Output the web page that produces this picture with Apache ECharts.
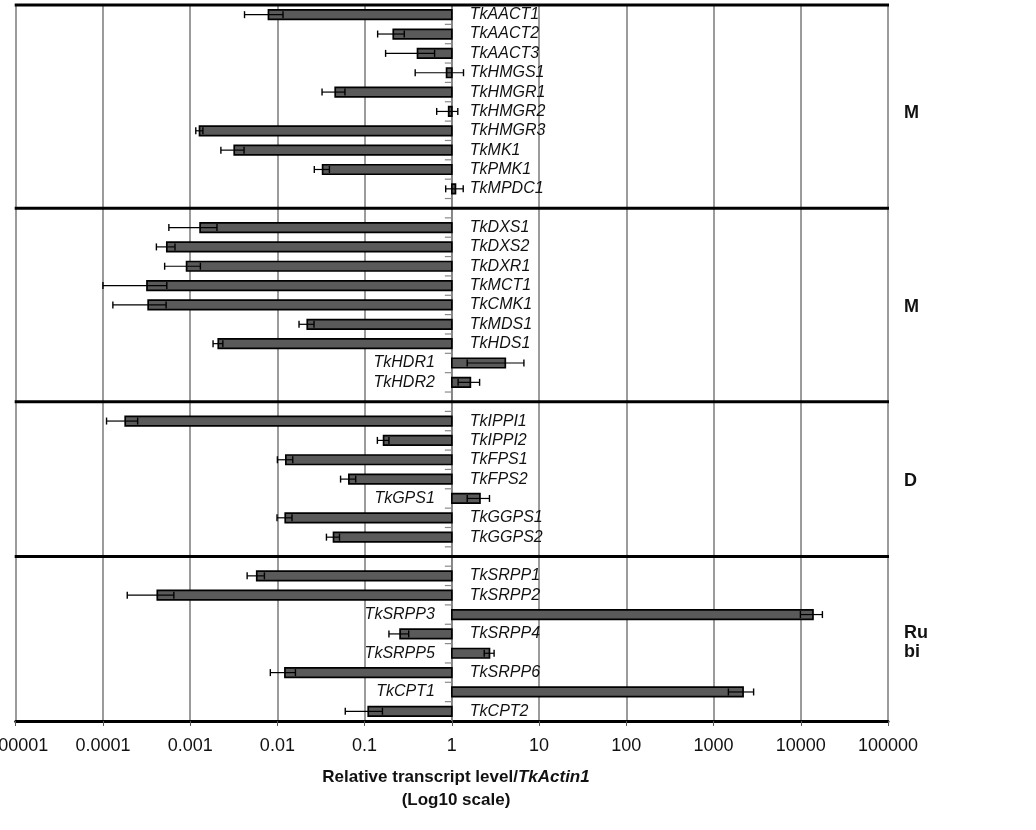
<!DOCTYPE html>
<html>
<head>
<meta charset="utf-8">
<script src="https://cdn.jsdelivr.net/npm/echarts@6/dist/echarts.min.js"></script>
<style>
html,body{margin:0;padding:0;background:#fff;}
#chart{width:1036px;height:830px;}
</style>
</head>
<body>
<div id="chart"></div>
<script>
// Genes (top to bottom); '' marks the gap row holding a group separator
const genes = [
  'TkAACT1','TkAACT2','TkAACT3','TkHMGS1','TkHMGR1','TkHMGR2','TkHMGR3','TkMK1','TkPMK1','TkMPDC1',
  '',
  'TkDXS1','TkDXS2','TkDXR1','TkMCT1','TkCMK1','TkMDS1','TkHDS1','TkHDR1','TkHDR2',
  '',
  'TkIPPI1','TkIPPI2','TkFPS1','TkFPS2','TkGPS1','TkGGPS1','TkGGPS2',
  '',
  'TkSRPP1','TkSRPP2','TkSRPP3','TkSRPP4','TkSRPP5','TkSRPP6','TkCPT1','TkCPT2'
];
// Relative transcript level / TkActin1
const levels = [
  0.0079, 0.213, 0.404, 0.87, 0.046, 0.92, 0.00128, 0.0032, 0.033, 1.1,
  null,
  0.0013, 0.00054, 0.00091, 0.00032, 0.00033, 0.022, 0.0021, 4.1, 1.63,
  null,
  0.00018, 0.165, 0.0125, 0.066, 2.1, 0.0123, 0.044,
  null,
  0.0058, 0.00042, 13800, 0.255, 2.7, 0.0122, 2180, 0.11
];
// Standard deviations
const sds = [
  0.0037, 0.072, 0.23, 0.49, 0.0135, 0.25, 0.00012, 0.00095, 0.0065, 0.25,
  null,
  0.00073, 0.00013, 0.0004, 0.00022, 0.0002, 0.0043, 0.00027, 2.6, 0.45,
  null,
  0.00007, 0.025, 0.0025, 0.013, 0.6, 0.0024, 0.0075,
  null,
  0.0013, 0.00023, 3900, 0.065, 0.35, 0.0039, 700, 0.05
];
const xTickLabels = ['0.00001','0.0001','0.001','0.01','0.1','1','10','100','1000','10000','100000'];
const groupLabels = ['M', 'M', 'D', 'Ru\nbi'];

const barData = [];
const sepData = [];
genes.forEach((g, i) => {
  if (g === '') sepData.push([i]);
  else barData.push([i, levels[i], sds[i], g]);
});

const chart = echarts.init(document.getElementById('chart'));
const LABEL_FONT = 'italic 16px "Liberation Sans", Arial, sans-serif';
const TXT_FONT = '"Liberation Sans", Arial, sans-serif';

chart.setOption({
  animation: false,
  grid: { left: 15.7, right: 148, top: 5, bottom: 109, containLabel: false, outerBoundsMode: 'none' },
  xAxis: {
    type: 'log', logBase: 10, min: 0.00001, max: 100000, interval: 1,
    axisLine: { show: true, lineStyle: { color: '#000', width: 3 } },
    axisTick: { show: true, length: 5, lineStyle: { color: '#555', width: 1 } },
    axisLabel: {
      margin: 16, color: '#111', fontSize: 18, fontFamily: TXT_FONT,
      hideOverlap: false, showMinLabel: true, showMaxLabel: true,
      formatter: v => xTickLabels[Math.round(Math.log10(v)) + 5]
    },
    splitLine: { show: true, lineStyle: { color: '#7a7a7a', width: 1.5 } }
  },
  yAxis: {
    type: 'category', inverse: true, data: genes,
    axisLine: { show: false }, axisTick: { show: false },
    axisLabel: { show: false }, splitLine: { show: false }
  },
  series: [
    { // vertical axis at 1 with category ticks
      type: 'custom', data: [[0]], silent: true, z: 3,
      renderItem: (params, api) => {
        const n = genes.length;
        const top = api.coord([1, 0]);
        const band = api.size([0, 1])[1];
        const x = top[0];
        const y0 = top[1] - band / 2;
        const children = [{
          type: 'line',
          shape: { x1: x, y1: y0, x2: x, y2: y0 + band * n },
          style: { stroke: '#808080', lineWidth: 1.5 }
        }];
        for (let k = 1; k < n; k++) {
          const y = y0 + band * k;
          children.push({
            type: 'line', shape: { x1: x - 7, y1: y, x2: x + 1, y2: y },
            style: { stroke: '#8a8a8a', lineWidth: 1.2 }
          });
        }
        return { type: 'group', children };
      }
    },
    { // group separators + top border
      type: 'custom', data: sepData.concat([[-0.5]]), silent: true, z: 5,
      renderItem: (params, api) => {
        const idx = api.value(0);
        let y;
        if (idx < 0) {
          y = api.coord([1, 0])[1] - api.size([0, 1])[1] / 2;
        } else {
          y = api.coord([1, idx])[1];
        }
        const a = api.coord([0.00001, 0]);
        const b = api.coord([100000, 0]);
        return {
          type: 'line', shape: { x1: a[0] - 1, y1: y, x2: b[0] + 1, y2: y },
          style: { stroke: '#000', lineWidth: 3 }
        };
      }
    },
    { // bars, error bars, gene labels
      type: 'custom', data: barData, z: 4,
      encode: { x: 1, y: 0 },
      renderItem: (params, api) => {
        const idx = api.value(0);
        const v = api.value(1);
        const sd = api.value(2);
        const name = barData[params.dataIndex][3];
        const p0 = api.coord([1, idx]);
        const p1 = api.coord([v, idx]);
        const lo = api.coord([v - sd, idx]);
        const hi = api.coord([v + sd, idx]);
        const h = 9.5;
        const cy = p0[1];
        const capH = 7;
        const labelLeft = v >= 1.5;
        const children = [
          {
            type: 'rect',
            shape: { x: Math.min(p0[0], p1[0]), y: cy - h / 2, width: Math.abs(p1[0] - p0[0]), height: h },
            style: { fill: '#5a5a5a', stroke: '#000', lineWidth: 1.7 }
          },
          { type: 'line', shape: { x1: lo[0], y1: cy, x2: hi[0], y2: cy }, style: { stroke: '#000', lineWidth: 1.2 } },
          { type: 'line', shape: { x1: lo[0], y1: cy - capH / 2, x2: lo[0], y2: cy + capH / 2 }, style: { stroke: '#000', lineWidth: 1.4 } },
          { type: 'line', shape: { x1: hi[0], y1: cy - capH / 2, x2: hi[0], y2: cy + capH / 2 }, style: { stroke: '#000', lineWidth: 1.4 } },
          {
            type: 'text',
            style: {
              text: name, x: labelLeft ? p0[0] - 17 : p0[0] + 18, y: cy,
              align: labelLeft ? 'right' : 'left', verticalAlign: 'middle',
              font: LABEL_FONT, fill: '#111'
            }
          }
        ];
        return { type: 'group', children };
      }
    }
  ],
  graphic: [
    {
      type: 'text', x: 456, y: 777,
      style: {
        text: '{a|Relative transcript level/}{b|TkActin1}',
        align: 'center', verticalAlign: 'middle',
        rich: {
          a: { fontSize: 17, fontWeight: 'bold', fontFamily: TXT_FONT, fill: '#111' },
          b: { fontSize: 17, fontWeight: 'bold', fontStyle: 'italic', fontFamily: TXT_FONT, fill: '#111' }
        }
      }
    },
    {
      type: 'text', x: 456, y: 800,
      style: { text: '(Log10 scale)', align: 'center', verticalAlign: 'middle',
        font: 'bold 17px ' + TXT_FONT, fill: '#111' }
    },
    { type: 'text', x: 904, y: 113, style: { text: groupLabels[0], verticalAlign: 'middle', font: 'bold 18px ' + TXT_FONT, fill: '#111' } },
    { type: 'text', x: 904, y: 307, style: { text: groupLabels[1], verticalAlign: 'middle', font: 'bold 18px ' + TXT_FONT, fill: '#111' } },
    { type: 'text', x: 904, y: 481, style: { text: groupLabels[2], verticalAlign: 'middle', font: 'bold 18px ' + TXT_FONT, fill: '#111' } },
    { type: 'text', x: 904, y: 643, style: { text: groupLabels[3], verticalAlign: 'middle', lineHeight: 19, font: 'bold 18px ' + TXT_FONT, fill: '#111' } }
  ]
});
</script>
</body>
</html>
